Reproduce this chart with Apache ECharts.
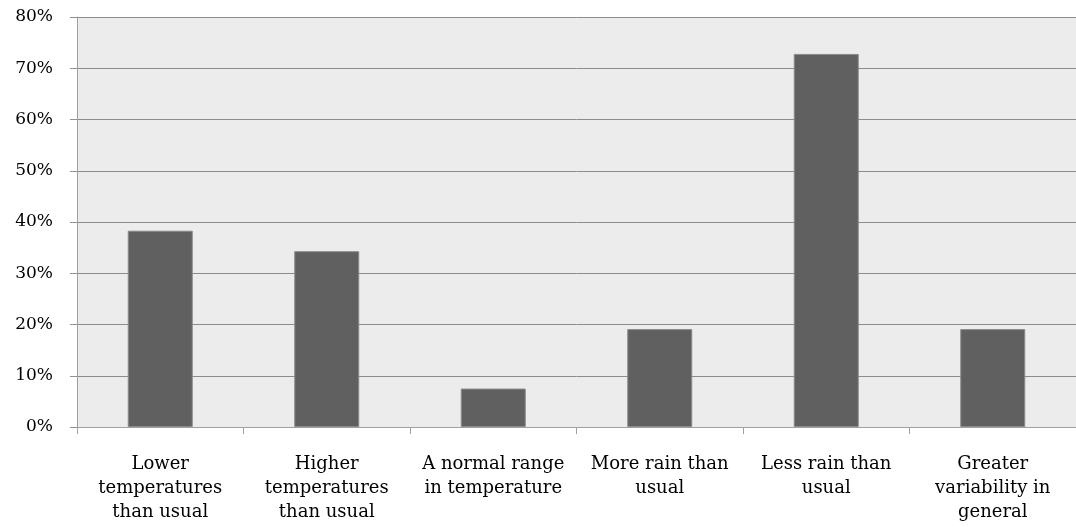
<!DOCTYPE html>
<html>
<head>
<meta charset="utf-8">
<script src="https://cdn.jsdelivr.net/npm/echarts@6/dist/echarts.min.js"></script>
<style>html,body{margin:0;padding:0;background:#fff}#c{width:1076px;height:527px}</style>
</head>
<body>
<div id="c"></div>
<script>
const categories = [
  "Lower\ntemperatures\nthan usual",
  "Higher\ntemperatures\nthan usual",
  "A normal range\nin temperature",
  "More rain than\nusual",
  "Less rain than\nusual",
  "Greater\nvariability in\ngeneral"
];
const values = [38.3, 34.3, 7.5, 19.1, 72.8, 19.1];
const yMin = 0, yMax = 80, yStep = 10;

const chart = echarts.init(document.getElementById('c'), null, {renderer: 'canvas'});
const font = "'DejaVu Serif', 'Liberation Serif', serif";
chart.setOption({
  animation: false,
  grid: {left: 77, right: 0, top: 17, bottom: 100, show: true, backgroundColor: '#ececec', borderWidth: 0},
  xAxis: {
    type: 'category',
    data: categories,
    axisLine: {lineStyle: {color: '#a0a0a0', width: 1}},
    axisTick: {show: true, length: 7, alignWithLabel: false, lineStyle: {color: '#a0a0a0'}},
    axisLabel: {color: '#000', fontFamily: font, fontSize: 18, lineHeight: 24, margin: 25, interval: 0, align: 'center'}
  },
  yAxis: {
    type: 'value',
    min: yMin, max: yMax, interval: yStep,
    axisLine: {show: true, lineStyle: {color: '#a0a0a0', width: 1}},
    axisTick: {show: true, length: 7, lineStyle: {color: '#909090'}},
    splitLine: {lineStyle: {color: '#8c8c8c', width: 1}},
    axisLabel: {color: '#000', fontFamily: font, fontSize: 17, margin: 24, formatter: v => v + '%'}
  },
  series: [{
    type: 'bar',
    data: values,
    barWidth: 65,
    itemStyle: {color: '#606060', borderColor: '#8a8a8a', borderWidth: 1}
  }]
});
</script>
</body>
</html>
